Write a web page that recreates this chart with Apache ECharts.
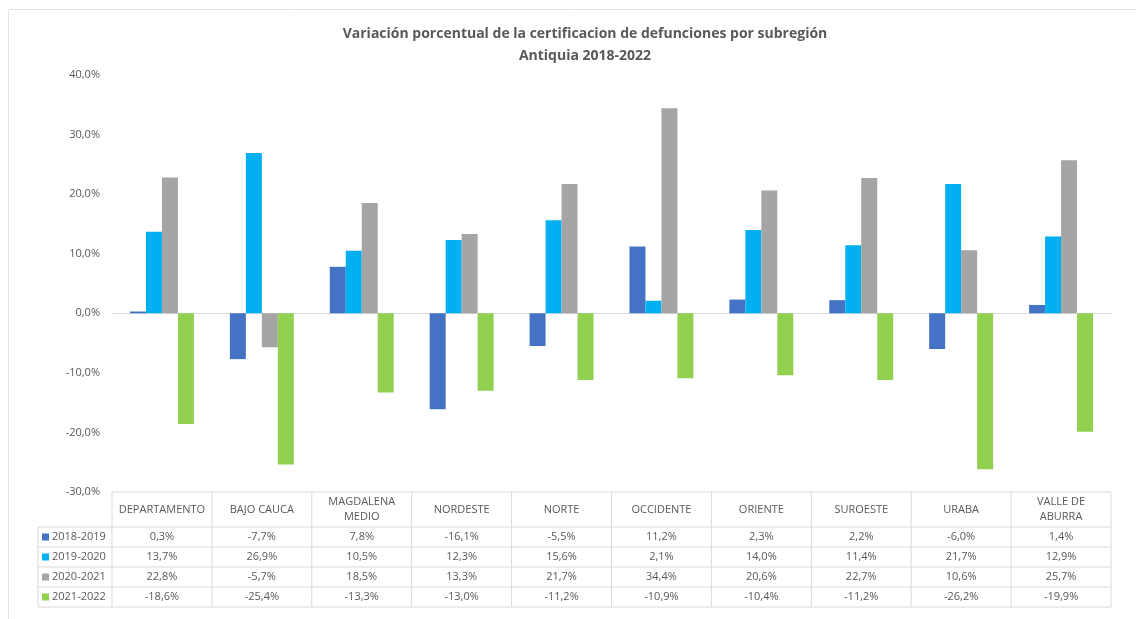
<!DOCTYPE html>
<html>
<head>
<meta charset="utf-8">
<title>Variación porcentual defunciones</title>
<script src="https://cdn.jsdelivr.net/npm/echarts@6/dist/echarts.min.js"></script>
<style>
  html, body { margin: 0; padding: 0; background: #fff; }
  #container { width: 1136px; height: 619px; }
</style>
</head>
<body>
<div id="container"></div>
<script>
var subregiones = ['DEPARTAMENTO', 'BAJO CAUCA', 'MAGDALENA\nMEDIO', 'NORDESTE', 'NORTE',
                   'OCCIDENTE', 'ORIENTE', 'SUROESTE', 'URABA', 'VALLE DE\nABURRA'];
var periodos = ['2018-2019', '2019-2020', '2020-2021', '2021-2022'];
var v2018_2019 = [0.3, -7.7, 7.8, -16.1, -5.5, 11.2, 2.3, 2.2, -6.0, 1.4];
var v2019_2020 = [13.7, 26.9, 10.5, 12.3, 15.6, 2.1, 14.0, 11.4, 21.7, 12.9];
var v2020_2021 = [22.8, -5.7, 18.5, 13.3, 21.7, 34.4, 20.6, 22.7, 10.6, 25.7];
var v2021_2022 = [-18.6, -25.4, -13.3, -13.0, -11.2, -10.9, -10.4, -11.2, -26.2, -19.9];
var valores = [v2018_2019, v2019_2020, v2020_2021, v2021_2022];
var colores = ['#4472C4', '#00B0F0', '#A5A5A5', '#92D050'];

var dom = document.getElementById('container');
var myChart = echarts.init(dom);

var fuente = 'Open Sans, Liberation Sans, sans-serif';
var gridLeft = 112, gridRight = 25, gridTop = 75, gridBottom = 127;
var plotW = 1136 - gridLeft - gridRight;
var colW = plotW / subregiones.length;
var tablaTop = 619 - gridBottom;     // linea de -30%
var headerH = 35, filaH = 20;
var tablaX0 = 38;
var lineaTabla = { stroke: '#d9d9d9', lineWidth: 1 };

function pct(v) {
    return v.toFixed(1).replace('.', ',') + '%';
}

var graficos = [];
// borde del area del grafico (arriba e izquierda)
graficos.push({ type: 'line', shape: { x1: 8.5, y1: 9.5, x2: 1136, y2: 9.5 }, style: { stroke: '#e3e3e3', lineWidth: 1 }, silent: true });
graficos.push({ type: 'line', shape: { x1: 8.5, y1: 9.5, x2: 8.5, y2: 619 }, style: { stroke: '#e3e3e3', lineWidth: 1 }, silent: true });

// tabla de datos debajo del grafico
var yFin = tablaTop + headerH + filaH * periodos.length;
graficos.push({ type: 'line', shape: { x1: gridLeft, y1: tablaTop, x2: gridLeft + plotW, y2: tablaTop }, style: lineaTabla, silent: true });
for (var r = 0; r <= periodos.length; r++) {
    var yy = tablaTop + headerH + r * filaH;
    graficos.push({ type: 'line', shape: { x1: tablaX0, y1: yy, x2: gridLeft + plotW, y2: yy }, style: lineaTabla, silent: true });
}
graficos.push({ type: 'line', shape: { x1: tablaX0, y1: tablaTop + headerH, x2: tablaX0, y2: yFin }, style: lineaTabla, silent: true });
for (var c = 0; c <= subregiones.length; c++) {
    var xx = gridLeft + c * colW;
    graficos.push({ type: 'line', shape: { x1: xx, y1: tablaTop, x2: xx, y2: yFin }, style: lineaTabla, silent: true });
}
// encabezados
subregiones.forEach(function (nombre, i) {
    graficos.push({
        type: 'text', x: gridLeft + (i + 0.5) * colW, y: tablaTop + headerH / 2, silent: true,
        style: { text: nombre, fill: '#595959', font: '11px ' + fuente, align: 'center', verticalAlign: 'middle', lineHeight: 15 }
    });
});
// filas
periodos.forEach(function (p, r) {
    var yc = tablaTop + headerH + (r + 0.5) * filaH;
    graficos.push({ type: 'rect', shape: { x: tablaX0 + 4, y: yc - 3.5, width: 7, height: 7 }, style: { fill: colores[r] }, silent: true });
    graficos.push({
        type: 'text', x: tablaX0 + 14, y: yc, silent: true,
        style: { text: p, fill: '#595959', font: '11px ' + fuente, align: 'left', verticalAlign: 'middle' }
    });
    valores[r].forEach(function (v, i) {
        graficos.push({
            type: 'text', x: gridLeft + (i + 0.5) * colW, y: yc, silent: true,
            style: { text: pct(v), fill: '#595959', font: '11px ' + fuente, align: 'center', verticalAlign: 'middle' }
        });
    });
});

var series = periodos.map(function (p, k) {
    return {
        name: p,
        type: 'bar',
        data: valores[k],
        barGap: 0,
        barCategoryGap: '36%',
        itemStyle: { color: colores[k] }
    };
});

var option = {
    animation: false,
    backgroundColor: '#fff',
    title: {
        text: 'Variación porcentual de la certificacion de defunciones por subregión\nAntiquia 2018-2022',
        left: 580,
        textAlign: 'center',
        top: 18,
        textStyle: { fontSize: 14, fontWeight: 'bold', color: '#595959', fontFamily: fuente, lineHeight: 22 }
    },
    grid: { left: gridLeft, right: gridRight, top: gridTop, bottom: gridBottom },
    xAxis: {
        type: 'category',
        data: subregiones,
        axisLine: { onZero: true, lineStyle: { color: '#d9d9d9' } },
        axisTick: { show: false },
        axisLabel: { show: false }
    },
    yAxis: {
        type: 'value',
        min: -30,
        max: 40,
        interval: 10,
        splitLine: { show: false },
        axisLine: { show: false },
        axisTick: { show: false },
        axisLabel: {
            margin: 12,
            color: '#595959',
            fontSize: 11,
            fontFamily: fuente,
            formatter: function (v) { return pct(v); }
        }
    },
    series: series,
    graphic: graficos
};
myChart.setOption(option, true);
</script>
</body>
</html>
